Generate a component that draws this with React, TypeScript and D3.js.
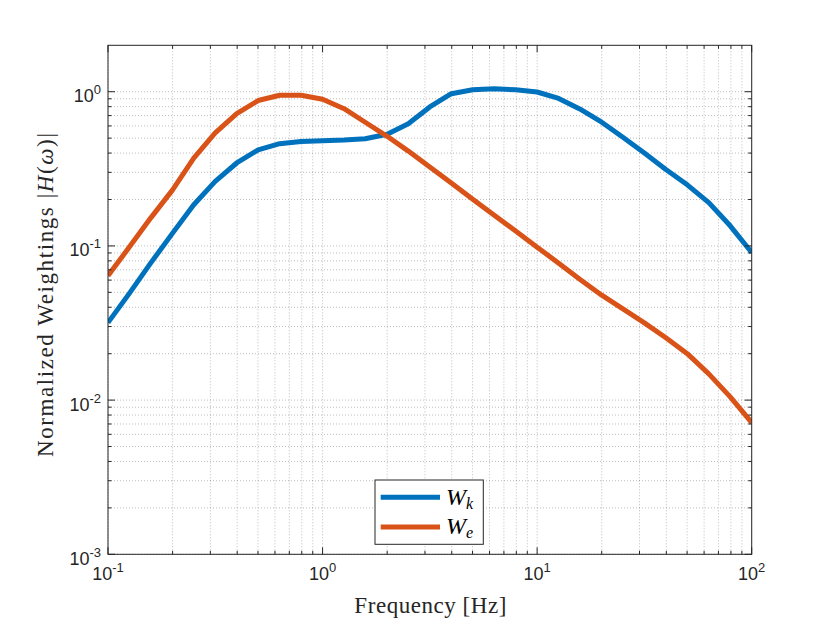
import * as d3 from 'd3';

const WIDTH = 830;
const HEIGHT = 623;
const PLOT = { left: 108, right: 751.7, top: 45.3, bottom: 554.3 };

// sample frequencies (10 per decade)
const freqHz = [
    0.1, 0.126, 0.158, 0.2, 0.251, 0.316, 0.398, 0.501, 0.631, 0.794, 1, 1.26, 1.58, 2, 2.51, 3.16,
    3.98, 5.01, 6.31, 7.94, 10, 12.6, 15.8, 20, 25.1, 31.6, 39.8, 50.1, 63.1, 79.4, 100,
];
const wk = [
    0.0318, 0.0494, 0.0773, 0.121, 0.185, 0.262, 0.345, 0.42, 0.46, 0.476, 0.481, 0.486, 0.495, 0.53,
    0.62, 0.796, 0.971, 1.03, 1.045, 1.03, 0.996, 0.905, 0.773, 0.634, 0.507, 0.4, 0.313, 0.249, 0.191,
    0.135, 0.0906,
];
const we = [
    0.064, 0.0987, 0.1515, 0.231, 0.371, 0.54, 0.72, 0.877, 0.948, 0.948, 0.894, 0.776, 0.634, 0.514,
    0.412, 0.325, 0.256, 0.201, 0.158, 0.125, 0.0981, 0.0773, 0.0608, 0.0479, 0.039, 0.0317, 0.0254,
    0.02, 0.0148, 0.0105, 0.00715,
];

const xTickExps = [-1, 0, 1, 2];
const yTickExps = [-3, -2, -1, 0];
const seriesNames = ['k', 'e'];
const COLORS = ['#0072BD', '#D95319'];
const AXIS = '#262626';
const SERIF = "'Liberation Serif', 'DejaVu Serif', serif";
const SANS = "'Liberation Sans', 'DejaVu Sans', Arial, sans-serif";

function minorTicks(lo: number, hi: number) {
    const out: number[] = [];
    for (let e = Math.floor(Math.log10(lo)); e <= Math.ceil(Math.log10(hi)); e++) {
        for (let m = 2; m <= 9; m++) {
            const v = m * Math.pow(10, e);
            if (v > lo * 1.0001 && v < hi * 0.9999) out.push(v);
        }
    }
    return out;
}

export default function App() {
    const xScale = d3.scaleLog().domain([0.1, 100]).range([PLOT.left, PLOT.right]);
    const yScale = d3.scaleLog().domain([1e-3, 2]).range([PLOT.bottom, PLOT.top]);

    const xMajor = xTickExps.map((e) => Math.pow(10, e));
    const yMajor = yTickExps.map((e) => Math.pow(10, e));
    const xMinor = minorTicks(0.1, 100);
    const yMinor = minorTicks(1e-3, 2);

    const lineBuilder = d3
        .line<number>()
        .x((_, i) => xScale(freqHz[i]))
        .y((d) => yScale(d));
    const paths = [lineBuilder(wk), lineBuilder(we)];

    const legend = { x: 375, y: 480, w: 108.3, h: 64.3 };

    return (
        <svg
            width={WIDTH}
            height={HEIGHT}
            style={{ position: 'absolute', left: 0, top: 0, background: '#fff' }}
        >
            <defs>
                <clipPath id="plot-clip">
                    <rect
                        x={PLOT.left}
                        y={PLOT.top}
                        width={PLOT.right - PLOT.left}
                        height={PLOT.bottom - PLOT.top}
                    />
                </clipPath>
            </defs>
            <rect x={0} y={0} width={WIDTH} height={HEIGHT} fill="#fff" />

            {/* grid */}
            <g stroke={AXIS} strokeWidth={1} strokeDasharray="1 2" fill="none" strokeOpacity={0.3}>
                {[...xMajor, ...xMinor].map((v) => (
                    <line
                        key={'gx' + v}
                        x1={xScale(v)}
                        x2={xScale(v)}
                        y1={PLOT.top}
                        y2={PLOT.bottom}
                    />
                ))}
                {[...yMajor, ...yMinor].map((v) => (
                    <line
                        key={'gy' + v}
                        x1={PLOT.left}
                        x2={PLOT.right}
                        y1={yScale(v)}
                        y2={yScale(v)}
                    />
                ))}
            </g>

            {/* curves */}
            <g clipPath="url(#plot-clip)">
                {paths.map((p, i) => (
                    <path
                        key={i}
                        d={p || ''}
                        fill="none"
                        stroke={COLORS[i]}
                        strokeWidth={5}
                        strokeLinejoin="round"
                    />
                ))}
            </g>

            {/* box and ticks */}
            <g stroke={AXIS} strokeWidth={1}>
                <rect
                    x={PLOT.left}
                    y={PLOT.top}
                    width={PLOT.right - PLOT.left}
                    height={PLOT.bottom - PLOT.top}
                    fill="none"
                />
                {xMajor.concat(xMinor).map((v) => {
                    const len = xMajor.includes(v) ? 7 : 3.5;
                    const x = xScale(v);
                    return (
                        <g key={'tx' + v}>
                            <line x1={x} x2={x} y1={PLOT.bottom} y2={PLOT.bottom - len} />
                            <line x1={x} x2={x} y1={PLOT.top} y2={PLOT.top + len} />
                        </g>
                    );
                })}
                {yMajor.concat(yMinor).map((v) => {
                    const len = yMajor.includes(v) ? 7 : 3.5;
                    const y = yScale(v);
                    return (
                        <g key={'ty' + v}>
                            <line x1={PLOT.left} x2={PLOT.left + len} y1={y} y2={y} />
                            <line x1={PLOT.right} x2={PLOT.right - len} y1={y} y2={y} />
                        </g>
                    );
                })}
            </g>

            {/* tick labels */}
            <g fontFamily={SANS} fill={AXIS}>
                {xTickExps.map((e) => (
                    <text key={'lx' + e} x={xScale(Math.pow(10, e))} y={580} textAnchor="middle" fontSize={18}>
                        <tspan>10</tspan>
                        <tspan fontSize={13} dy={-8}>
                            {e < 0 ? '-' + Math.abs(e) : String(e)}
                        </tspan>
                    </text>
                ))}
                {yTickExps.map((e) => (
                    <text
                        key={'ly' + e}
                        x={101}
                        y={yScale(Math.pow(10, e)) + 10.5}
                        textAnchor="end"
                        fontSize={18}
                    >
                        <tspan>10</tspan>
                        <tspan fontSize={13} dy={-8}>
                            {e < 0 ? '-' + Math.abs(e) : String(e)}
                        </tspan>
                    </text>
                ))}
            </g>

            {/* axis labels */}
            <g fontFamily={SERIF} fill={AXIS}>
                <text
                    x={(PLOT.left + PLOT.right) / 2 + 0.5}
                    y={613}
                    textAnchor="middle"
                    fontSize={23}
                    textLength={152}
                    lengthAdjust="spacing"
                >
                    Frequency [Hz]
                </text>
                <text
                    transform={`translate(53, 295) rotate(-90)`}
                    textAnchor="middle"
                    fontSize={23}
                    textLength={324}
                    lengthAdjust="spacing"
                >
                    <tspan>Normalized Weightings |</tspan>
                    <tspan fontStyle="italic">H</tspan>
                    <tspan>(</tspan>
                    <tspan fontStyle="italic">ω</tspan>
                    <tspan>)|</tspan>
                </text>
            </g>

            {/* legend */}
            <g>
                <rect
                    x={legend.x}
                    y={legend.y}
                    width={legend.w}
                    height={legend.h}
                    fill="#fff"
                    stroke={AXIS}
                    strokeWidth={1}
                />
                {seriesNames.map((name, i) => {
                    const y = legend.y + 17.3 + i * 29.7;
                    return (
                        <g key={name}>
                            <line
                                x1={legend.x + 5.7}
                                x2={legend.x + 65}
                                y1={y}
                                y2={y}
                                stroke={COLORS[i]}
                                strokeWidth={5}
                            />
                            <text
                                x={legend.x + 71}
                                y={y + 7.3}
                                fontFamily={SERIF}
                                fontStyle="italic"
                                fontSize={24}
                                fill="#000"
                            >
                                W
                                <tspan fontSize={16} dy={4}>
                                    {name}
                                </tspan>
                            </text>
                        </g>
                    );
                })}
            </g>
        </svg>
    );
}
